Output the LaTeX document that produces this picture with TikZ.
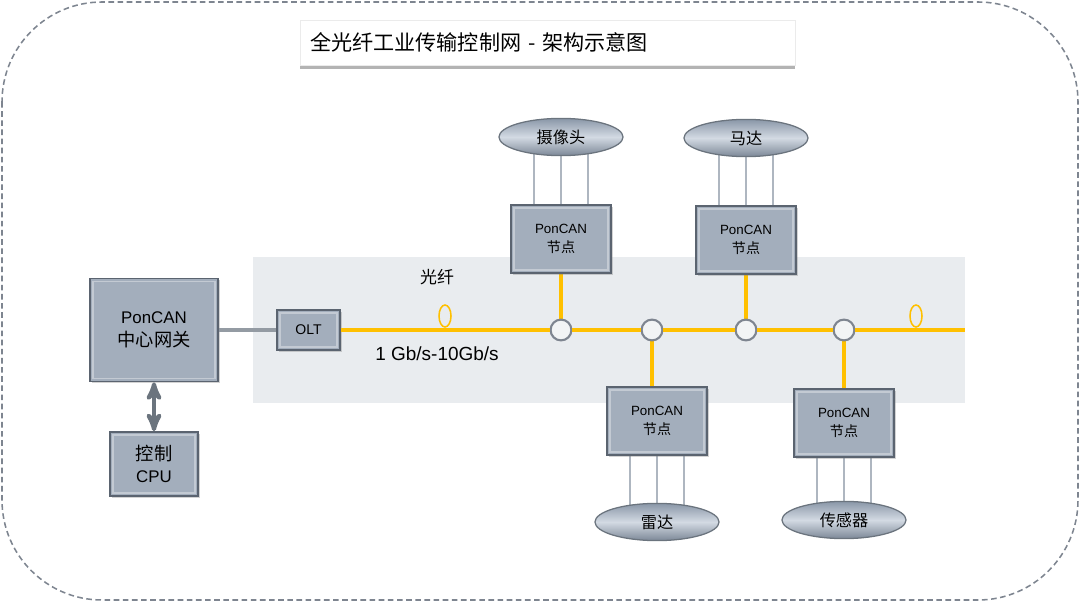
\documentclass[tikz,border=0pt]{standalone}
\usepackage{fontspec}
\setmainfont{Liberation Sans}
\newfontfamily\cjk{Noto Sans CJK SC}
\usetikzlibrary{arrows}
\usetikzlibrary{calc,backgrounds,shadows,shapes.geometric}
\usepackage{xcolor}
\definecolor{bandgrey}{HTML}{E9ECEF}
\definecolor{panelfill}{HTML}{A3AEBC}
\definecolor{panelline}{HTML}{5B6470}
\definecolor{fibre}{HTML}{FFC000}
\definecolor{wiregrey}{HTML}{AEB6C0}
\definecolor{framegrey}{HTML}{7E8590}
\definecolor{devlight}{HTML}{D3DAE3}
\definecolor{devdark}{HTML}{8A97A8}
\newcommand\zh[1]{{\cjk #1}}

\begin{document}
\begin{tikzpicture}[x=0.025cm,y=-0.025cm,>=stealth',
 panel/.style={draw=panelline, line width=1.2pt, fill=panelfill, align=center, inner sep=0pt,
  drop shadow={shadow xshift=1.2pt, shadow yshift=-1.2pt, opacity=.35},
  path picture={\draw[white, opacity=.35, line width=1.2pt]
   ([shift={(2.2pt,2.2pt)}]path picture bounding box.south west) rectangle
   ([shift={(-2.2pt,-2.2pt)}]path picture bounding box.north east);}},
 nodebox/.style={panel, minimum width=2.5cm, minimum height=1.7cm, font=\fontsize{10}{13.5}\selectfont},
 device/.style={ellipse, draw=panelline!90, line width=.9pt, top color=devdark, bottom color=devdark!90!black,
  middle color=devlight, minimum width=3.1cm, minimum height=.93cm,
  inner sep=0pt, font=\cjk\fontsize{11.5}{14}\selectfont},
 joint/.style={circle, draw=framegrey, line width=1.5pt, fill=bandgrey!60!white, minimum size=.52cm, inner sep=0pt},
 marker/.style={ellipse, draw=fibre, line width=1.1pt, minimum width=.3cm, minimum height=.55cm, inner sep=0pt},
 fibreline/.style={fibre, line width=2.3pt},
 wire/.style={wiregrey, line width=1.2pt}]
\useasboundingbox (0,0) rectangle (1080,602);
\draw[framegrey, line width=1.1pt, dash pattern=on 4pt off 2.5pt, rounded corners=2.5cm] (2,2) rectangle (1078,600);
\begin{scope}[on background layer]
 \fill[bandgrey] (253,257) rectangle (965,403);
\end{scope}

% title
\node[anchor=north west, draw=black!8, fill=white, minimum width=12.375cm, minimum height=1.125cm,
 inner xsep=.25cm, text width=11.875cm, align=left, font=\cjk\fontsize{15}{18}\selectfont,
 drop shadow={shadow xshift=0pt, shadow yshift=-2.5pt, opacity=.6}] (title) at (300,20)
 {全光纤工业传输控制网 - 架构示意图};

% gateway side
\node[panel, minimum width=3.2cm, minimum height=2.575cm, font=\fontsize{12}{16}\selectfont] (gw) at (154,330)
 {PonCAN\\\zh{\fontsize{13}{16}\selectfont 中心网关}};
\node[panel, minimum width=2.2cm, minimum height=1.6cm, font=\fontsize{12}{16}\selectfont] (cpu) at (154,464)
 {\zh{\fontsize{13}{16}\selectfont 控制}\\CPU};
\node[panel, minimum width=1.575cm, minimum height=1cm, font=\fontsize{10}{12}\selectfont] (olt) at (308.5,330) {OLT};
\draw[<->, panelline!90, line width=3pt] (gw) -- (cpu);
\draw[wiregrey!85!black, line width=2.2pt] (gw) -- (olt);

% fibre bus
\node[joint] (j1) at (561,330) {};
\node[joint] (j2) at (652,330) {};
\node[joint] (j3) at (746,330) {};
\node[joint] (j4) at (844,330) {};
\coordinate (busend) at (965,330);
\draw[fibreline] (olt) -- (j1) -- (j2) -- (j3) -- (j4) -- (busend);
\node[marker] (m1) at (445,316) {};
\node[marker] (m2) at (916,316) {};
\node[font=\cjk\fontsize{12}{14}\selectfont] (fibrelbl) at (437,277) {光纤};
\node[font=\fontsize{13.5}{16}\selectfont] (ratelbl) at (437,354) {1 Gb/s-10Gb/s};

% PonCAN nodes
\node[nodebox] (n1) at (561,239) {{\fontsize{9.5}{13.5}\selectfont PonCAN}\\\zh{节点}};
\node[nodebox] (n2) at (746,240) {{\fontsize{9.5}{13.5}\selectfont PonCAN}\\\zh{节点}};
\node[nodebox] (n3) at (657,421) {{\fontsize{9.5}{13.5}\selectfont PonCAN}\\\zh{节点}};
\node[nodebox] (n4) at (844,423) {{\fontsize{9.5}{13.5}\selectfont PonCAN}\\\zh{节点}};

% field devices
\node[device] (cam) at (561,137) {摄像头};
\node[device] (motor) at (746,138) {马达};
\node[device] (radar) at (657,522) {雷达};
\node[device] (sensor) at (844,520) {传感器};
\begin{scope}[on background layer]
\foreach \j/\n in {j1/n1,j2/n3,j3/n2,j4/n4}
 \draw[fibreline] (\j.center) -- (\j |- \n.center);
\foreach \dev/\n in {cam/n1,motor/n2,radar/n3,sensor/n4}
 \foreach \dx in {-19,0,19}
  \draw[wire] ([xshift=\dx pt]\dev.center) -- ([xshift=\dx pt]\n.center);
\end{scope}
\end{tikzpicture}
\end{document}
